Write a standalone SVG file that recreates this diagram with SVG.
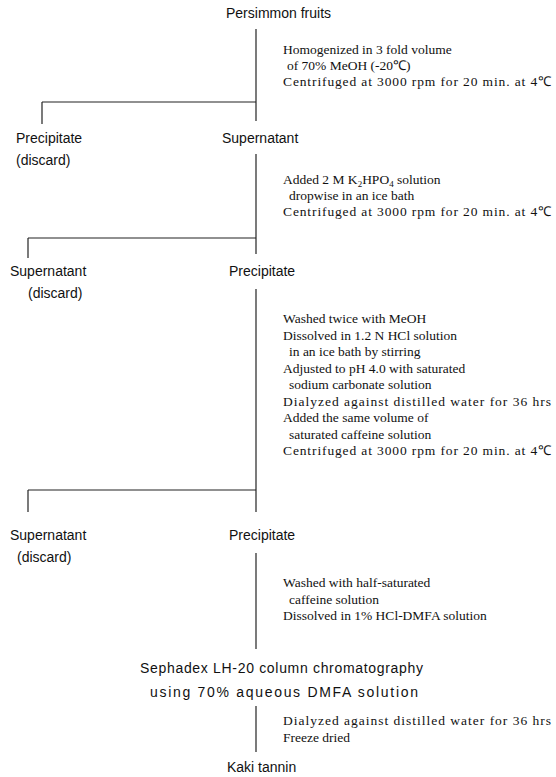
<svg xmlns="http://www.w3.org/2000/svg" width="556" height="777" viewBox="0 0 556 777">
<style>
.n{font-family:"Liberation Sans",Arial,sans-serif;font-size:14px;fill:#111}
.s{font-family:"Liberation Serif","Times New Roman",serif;font-size:13.5px;fill:#111}
.c line{stroke:#222;stroke-width:1.2;fill:none}
</style>
<rect width="556" height="777" fill="#fff"/>
<g class="c" id="connectors">
<line x1="256" y1="29" x2="256" y2="121"/>
<line x1="42" y1="102" x2="256" y2="102"/>
<line x1="42" y1="102" x2="42" y2="124"/>
<line x1="256" y1="154" x2="256" y2="254"/>
<line x1="28" y1="238" x2="256" y2="238"/>
<line x1="28" y1="238" x2="28" y2="258"/>
<line x1="256" y1="289" x2="256" y2="512"/>
<line x1="28" y1="490" x2="256" y2="490"/>
<line x1="28" y1="490" x2="28" y2="512"/>
<line x1="256" y1="553" x2="256" y2="649"/>
<line x1="256" y1="706" x2="256" y2="752"/>
</g>
<g id="persimmon"><text class="n" x="226" y="18">Persimmon fruits</text></g>
<g id="step1" class="s">
<text x="283" y="54">Homogenized in 3 fold volume</text>
<text x="287" y="70">of 70% MeOH (-20℃)</text>
<text x="283" y="86" textLength="268" lengthAdjust="spacing">Centrifuged at 3000 rpm for 20 min. at 4℃</text>
</g>
<g id="precipitate1"><text class="n" x="16" y="143">Precipitate</text><text class="n" x="16" y="165">(discard)</text></g>
<g id="supernatant1"><text class="n" x="222" y="143">Supernatant</text></g>
<g id="step2" class="s">
<text x="283" y="184">Added 2 M K<tspan font-size="9" dy="3">2</tspan><tspan dy="-3">HPO</tspan><tspan font-size="9" dy="3">4</tspan><tspan dy="-3"> solution</tspan></text>
<text x="289" y="200">dropwise in an ice bath</text>
<text x="283" y="216" textLength="268" lengthAdjust="spacing">Centrifuged at 3000 rpm for 20 min. at 4℃</text>
</g>
<g id="supernatant2"><text class="n" x="10" y="276">Supernatant</text><text class="n" x="28" y="298">(discard)</text></g>
<g id="precipitate2"><text class="n" x="229" y="276">Precipitate</text></g>
<g id="step3" class="s">
<text x="283" y="323">Washed twice with MeOH</text>
<text x="283" y="339.5">Dissolved in 1.2 N HCl solution</text>
<text x="289" y="356">in an ice bath by stirring</text>
<text x="283" y="372.5">Adjusted to pH 4.0 with saturated</text>
<text x="289" y="389">sodium carbonate solution</text>
<text x="283" y="405.5" textLength="268" lengthAdjust="spacing">Dialyzed against distilled water for 36 hrs</text>
<text x="283" y="422">Added the same volume of</text>
<text x="289" y="438.5">saturated caffeine solution</text>
<text x="283" y="455" textLength="268" lengthAdjust="spacing">Centrifuged at 3000 rpm for 20 min. at 4℃</text>
</g>
<g id="supernatant3"><text class="n" x="10" y="540">Supernatant</text><text class="n" x="17" y="562">(discard)</text></g>
<g id="precipitate3"><text class="n" x="229" y="540">Precipitate</text></g>
<g id="step4" class="s">
<text x="283" y="587">Washed with half-saturated</text>
<text x="289" y="603.5">caffeine solution</text>
<text x="283" y="620">Dissolved in 1% HCl-DMFA solution</text>
</g>
<g id="sephadex"><text class="n" x="140" y="673" textLength="283" lengthAdjust="spacing">Sephadex LH-20 column chromatography</text><text class="n" x="150" y="697" textLength="268" lengthAdjust="spacing">using 70% aqueous DMFA solution</text></g>
<g id="step5" class="s">
<text x="283" y="725" textLength="268" lengthAdjust="spacing">Dialyzed against distilled water for 36 hrs</text>
<text x="283" y="741.5">Freeze dried</text>
</g>
<g id="kaki"><text class="n" x="227" y="772">Kaki tannin</text></g>
</svg>
